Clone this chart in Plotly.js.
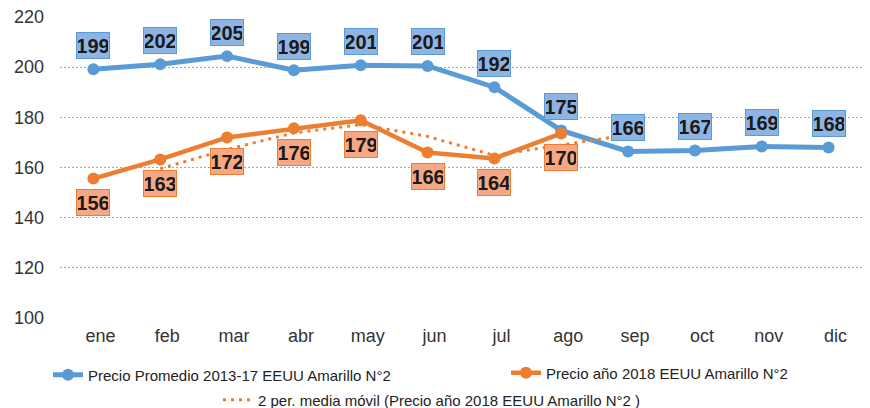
<!DOCTYPE html>
<html>
<head>
<meta charset="utf-8">
<script src="https://cdn.plot.ly/plotly-3.0.1.min.js"></script>
<style>
  html, body { margin: 0; padding: 0; background: #ffffff; }
  #chart { width: 870px; height: 408px; }
</style>
</head>
<body>
<div id="chart"></div>
<script>
// ---- data ----
var months = ["ene", "feb", "mar", "abr", "may", "jun", "jul", "ago", "sep", "oct", "nov", "dic"];

var promedioValues = [199.2, 201.2, 204.4, 198.8, 200.8, 200.5, 192.0, 174.8, 166.4, 166.8, 168.4, 168.0];
var promedioLabels = ["199", "202", "205", "199", "201", "201", "192", "175", "166", "167", "169", "168"];

var months2018 = ["ene", "feb", "mar", "abr", "may", "jun", "jul", "ago"];
var anio2018Values = [155.6, 163.2, 172.0, 175.6, 178.8, 166.0, 163.6, 173.6];
var anio2018Labels = ["156", "163", "172", "176", "179", "166", "164", "170"];

var mediaMonths = ["feb", "mar", "abr", "may", "jun", "jul", "ago", "sep"];
var mediaValues = [159.5, 167.2, 173.8, 177.1, 172.4, 164.8, 169.0, 173.0];

var yTicks = [100, 120, 140, 160, 180, 200, 220];

var nameProm = "Precio Promedio 2013-17 EEUU Amarillo N°2";
var name2018 = "Precio año 2018 EEUU Amarillo N°2";
var nameMedia = "2 per. media móvil (Precio año 2018 EEUU Amarillo N°2 )";

// ---- styling ----
var BLUE = "#5B9BD5";
var ORANGE = "#ED7D31";
var BLUE_BOX = "#8DB4E2";
var ORANGE_BOX = "#F6A784";
var LABEL_FONT = "Liberation Sans Narrow, Liberation Sans, Arial, sans-serif";
var TEXT_FONT = "Liberation Sans, Arial, sans-serif";

var traces = [
  {
    x: months, y: promedioValues, name: nameProm, type: "scatter", mode: "lines+markers",
    line: { color: BLUE, width: 5 }, marker: { color: BLUE, size: 12 },
    legend: "legend", hoverinfo: "x+y"
  },
  {
    x: months2018, y: anio2018Values, name: name2018, type: "scatter", mode: "lines+markers",
    line: { color: ORANGE, width: 4.5 }, marker: { color: ORANGE, size: 12 },
    legend: "legend2", hoverinfo: "x+y"
  },
  {
    x: mediaMonths, y: mediaValues, name: nameMedia, type: "scatter", mode: "lines",
    line: { color: ORANGE, width: 3, dash: "3px,5px" },
    legend: "legend3", hoverinfo: "x+y"
  }
];

var annotations = [];
promedioValues.forEach(function (v, i) {
  annotations.push({
    x: months[i], y: v, xref: "x", yref: "y", text: promedioLabels[i], showarrow: false,
    yshift: 24, font: { family: LABEL_FONT, size: 20, color: "#1a1a1a", weight: "bold" },
    bgcolor: BLUE_BOX, bordercolor: BLUE, borderwidth: 1, borderpad: 1,
    width: 30, height: 23, align: "center", valign: "middle"
  });
});
anio2018Values.forEach(function (v, i) {
  annotations.push({
    x: months2018[i], y: v, xref: "x", yref: "y", text: anio2018Labels[i], showarrow: false,
    yshift: -24, font: { family: LABEL_FONT, size: 20, color: "#1a1a1a", weight: "bold" },
    bgcolor: ORANGE_BOX, bordercolor: ORANGE, borderwidth: 1, borderpad: 1,
    width: 30, height: 23, align: "center", valign: "middle"
  });
});

var legendBase = {
  orientation: "h", xref: "container", yref: "container", xanchor: "left", yanchor: "middle",
  bgcolor: "rgba(0,0,0,0)", borderwidth: 0,
  font: { family: TEXT_FONT, size: 15, color: "#222222" }
};

var layout = {
  width: 870, height: 408,
  margin: { l: 60, r: 8, t: 17, b: 90 },
  paper_bgcolor: "#ffffff", plot_bgcolor: "#ffffff",
  font: { family: TEXT_FONT, color: "#333333" },
  showlegend: true,
  xaxis: {
    type: "category", categoryorder: "array", categoryarray: months,
    range: [-0.5, 11.5], showgrid: false, zeroline: false, showline: false,
    ticks: "", ticklabelstandoff: 5, ticklabelshift: 7,
    tickfont: { family: TEXT_FONT, size: 18, color: "#333333" }, fixedrange: true
  },
  yaxis: {
    range: [100, 220], tickvals: yTicks, ticktext: yTicks.map(String),
    showgrid: true, gridcolor: "#A6A6A6", gridwidth: 1, griddash: "2px,2px",
    zeroline: false, showline: false, ticks: "", ticklabelstandoff: 15,
    tickfont: { family: TEXT_FONT, size: 18, color: "#333333" }, fixedrange: true
  },
  legend: Object.assign({}, legendBase, { x: 48 / 870, y: 1 - 375 / 408 }),
  legend2: Object.assign({}, legendBase, { x: 506 / 870, y: 1 - 373 / 408 }),
  legend3: Object.assign({}, legendBase, { x: 218 / 870, y: 1 - 400 / 408 }),
  annotations: annotations
};

Plotly.newPlot("chart", traces, layout, { displayModeBar: false, staticPlot: true });
</script>
</body>
</html>
